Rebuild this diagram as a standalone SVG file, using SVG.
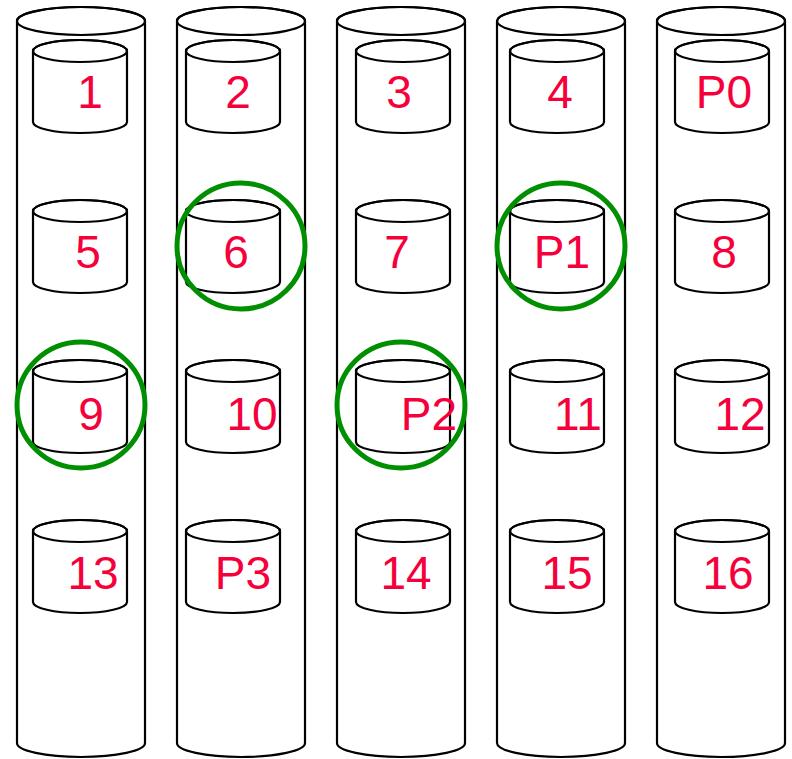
<svg xmlns="http://www.w3.org/2000/svg" xmlns:xlink="http://www.w3.org/1999/xlink" width="792" height="759" viewBox="0 0 792 759">
<style>
.s{fill:#fff;stroke:#000;stroke-width:2.2}
.e{fill:none;stroke:#000;stroke-width:2.2}
.t{font-family:"Liberation Sans",Arial,sans-serif;font-size:46px;fill:#f5003a;text-anchor:middle}
.c{fill:none;stroke:#008f00;stroke-width:5}
</style>
<defs>
<g id="big">
<path class="s" d="M0,14 L0,736 A64,14 0 0 0 128,736 L128,14 A64,14 0 0 0 0,14 Z"/>
<ellipse class="e" cx="64" cy="14" rx="64" ry="14"/>
</g>
<g id="small">
<path class="s" d="M0,11 L0,82 A47,11 0 0 0 94,82 L94,11 A47,11 0 0 0 0,11 Z"/>
<ellipse class="e" cx="47" cy="11" rx="47" ry="11"/>
</g>
</defs>
<g id="columns">
<use xlink:href="#big" x="17" y="7"/>
<use xlink:href="#big" x="177" y="7"/>
<use xlink:href="#big" x="337" y="7"/>
<use xlink:href="#big" x="497" y="7"/>
<use xlink:href="#big" x="657" y="7"/>
</g>
<g id="n1"><use xlink:href="#small" x="33" y="40"/><text class="t" x="90" y="108">1</text></g>
<g id="n2"><use xlink:href="#small" x="186" y="40"/><text class="t" x="238" y="108">2</text></g>
<g id="n3"><use xlink:href="#small" x="356" y="40"/><text class="t" x="399" y="108">3</text></g>
<g id="n4"><use xlink:href="#small" x="510" y="40"/><text class="t" x="560" y="108">4</text></g>
<g id="nP0"><use xlink:href="#small" x="675" y="40"/><text class="t" x="724" y="108">P0</text></g>
<g id="n5"><use xlink:href="#small" x="33" y="200"/><text class="t" x="88" y="268">5</text></g>
<g id="n6"><use xlink:href="#small" x="186" y="200"/><text class="t" x="236" y="268">6</text></g>
<g id="n7"><use xlink:href="#small" x="356" y="200"/><text class="t" x="397" y="268">7</text></g>
<g id="nP1"><use xlink:href="#small" x="510" y="200"/><text class="t" x="562" y="268">P1</text></g>
<g id="n8"><use xlink:href="#small" x="675" y="200"/><text class="t" x="724" y="268">8</text></g>
<g id="n9"><use xlink:href="#small" x="33" y="360"/><text class="t" x="91" y="430">9</text></g>
<g id="n10"><use xlink:href="#small" x="186" y="360"/><text class="t" x="252" y="430">10</text></g>
<g id="nP2"><use xlink:href="#small" x="356" y="360"/><text class="t" x="429" y="430">P2</text></g>
<g id="n11"><use xlink:href="#small" x="510" y="360"/><text class="t" x="578" y="430">11</text></g>
<g id="n12"><use xlink:href="#small" x="675" y="360"/><text class="t" x="740" y="430">12</text></g>
<g id="n13"><use xlink:href="#small" x="33" y="520"/><text class="t" x="93" y="589">13</text></g>
<g id="nP3"><use xlink:href="#small" x="186" y="520"/><text class="t" x="243" y="589">P3</text></g>
<g id="n14"><use xlink:href="#small" x="356" y="520"/><text class="t" x="406" y="589">14</text></g>
<g id="n15"><use xlink:href="#small" x="510" y="520"/><text class="t" x="567" y="589">15</text></g>
<g id="n16"><use xlink:href="#small" x="675" y="520"/><text class="t" x="728" y="589">16</text></g>
<g id="highlights">
<ellipse class="c" cx="81" cy="405" rx="64" ry="63"/>
<ellipse class="c" cx="241" cy="246" rx="64" ry="63"/>
<ellipse class="c" cx="401" cy="405" rx="64" ry="63"/>
<ellipse class="c" cx="561" cy="246" rx="64" ry="63"/>
</g>
</svg>
